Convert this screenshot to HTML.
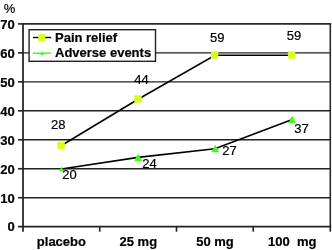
<!DOCTYPE html>
<html>
<head>
<meta charset="utf-8">
<title>Chart</title>
<style>
html,body{margin:0;padding:0;background:#fff;}
body{width:332px;height:250px;overflow:hidden;}
svg{display:block;}
text{font-family:"Liberation Sans",Arial,sans-serif;font-size:13px;fill:#000;stroke:#000;stroke-width:0.2px;}
.b{font-weight:bold;}
</style>
</head>
<body>
<svg width="332" height="250" viewBox="0 0 332 250">
<rect x="0" y="0" width="332" height="250" fill="#fff"/>
<!-- gridlines -->
<g stroke="#222" stroke-width="1.4" fill="none">
<line x1="23" y1="52.87" x2="330.3" y2="52.87"/>
<line x1="23" y1="81.84" x2="330.3" y2="81.84"/>
<line x1="23" y1="110.81" x2="330.3" y2="110.81"/>
<line x1="23" y1="139.78" x2="330.3" y2="139.78"/>
<line x1="23" y1="168.75" x2="330.3" y2="168.75"/>
<line x1="23" y1="197.72" x2="330.3" y2="197.72"/>
</g>
<!-- plot border -->
<g stroke="#2a2a2a" stroke-width="1.6" fill="none">
<line x1="23" y1="23.90" x2="331.2" y2="23.90"/>
<line x1="330.3" y1="23.90" x2="330.3" y2="226.69"/>
</g>
<!-- axes -->
<g stroke="#222" stroke-width="1.75" fill="none">
<line x1="23" y1="23" x2="23" y2="231.7"/>
<line x1="18" y1="226.69" x2="331.2" y2="226.69"/>
</g>
<g stroke="#222" stroke-width="1.6" fill="none">
<line x1="18" y1="23.90" x2="23" y2="23.90"/>
<line x1="18" y1="52.87" x2="23" y2="52.87"/>
<line x1="18" y1="81.84" x2="23" y2="81.84"/>
<line x1="18" y1="110.81" x2="23" y2="110.81"/>
<line x1="18" y1="139.78" x2="23" y2="139.78"/>
<line x1="18" y1="168.75" x2="23" y2="168.75"/>
<line x1="18" y1="197.72" x2="23" y2="197.72"/>
<line x1="99.75" y1="226.69" x2="99.75" y2="231.7"/>
<line x1="176.5" y1="226.69" x2="176.5" y2="231.7"/>
<line x1="253.25" y1="226.69" x2="253.25" y2="231.7"/>
<line x1="330.3" y1="226.69" x2="330.3" y2="231.7"/>
</g>
<!-- series lines -->
<polyline points="61.4,145.5 138.1,99.2 214.9,55.2 291.6,55.2" fill="none" stroke="#000" stroke-width="1.6"/>
<polyline points="61.4,169 138.1,157.4 214.9,148.7 291.6,119.7" fill="none" stroke="#000" stroke-width="1.6"/>
<!-- markers pain relief -->
<g fill="#D6FF1A">
<rect x="57.4" y="141.85" width="7.4" height="7.3"/>
<rect x="134.3" y="95.35" width="7.4" height="7.3"/>
<rect x="210.9" y="51.35" width="7.4" height="7.3"/>
<rect x="287.9" y="51.35" width="7.4" height="7.3"/>
</g>
<!-- markers adverse events -->
<g fill="#3CFF14">
<polygon points="61.5,166.4 59.2,171.5 63.8,171.5"/>
<polygon points="138.2,153.4 134.3,160.9 142.1,160.9"/>
<polygon points="215.3,144.7 211.4,152.2 219.2,152.2"/>
<polygon points="292.1,115.7 288.2,123.2 296.0,123.2"/>
</g>
<!-- legend -->
<rect x="29.1" y="29.7" width="126.4" height="31.6" fill="#fff" stroke="#222" stroke-width="1.4"/>
<line x1="33" y1="37.5" x2="51.2" y2="37.5" stroke="#000" stroke-width="1.4"/>
<rect x="38.3" y="34.2" width="7" height="7" fill="#D6FF1A"/>
<line x1="33" y1="53.2" x2="51.2" y2="53.2" stroke="#3CFF14" stroke-width="1.4"/>
<polygon points="42.2,50.9 40.5,55.1 43.9,55.1" fill="#3CFF14"/>
<text class="b" x="55" y="42.2">Pain relief</text>
<text class="b" x="55" y="57.2">Adverse events</text>
<!-- y labels -->
<text x="3.8" y="12.5">%</text>
<g class="b" text-anchor="end">
<text x="14.8" y="28.9">70</text>
<text x="14.8" y="57.9">60</text>
<text x="14.8" y="86.9">50</text>
<text x="14.8" y="115.9">40</text>
<text x="14.8" y="144.9">30</text>
<text x="14.8" y="173.9">20</text>
<text x="14.8" y="202.9">10</text>
<text x="14.8" y="231.2">0</text>
</g>
<!-- x labels -->
<g class="b" text-anchor="middle">
<text x="61.4" y="246.3">placebo</text>
<text x="138.3" y="246.3">25 mg</text>
<text x="215" y="246.3">50 mg</text>
<text x="292.3" y="246.3" xml:space="preserve">100  mg</text>
</g>
<!-- data labels -->
<g text-anchor="middle">
<text x="58.3" y="129">28</text>
<text x="141.4" y="84.2">44</text>
<text x="217.3" y="41.6">59</text>
<text x="294" y="39.6">59</text>
<text x="69.6" y="179">20</text>
<text x="149.6" y="167.5">24</text>
<text x="229.5" y="155.2">27</text>
<text x="301.4" y="132.8">37</text>
</g>
</svg>
</body>
</html>
